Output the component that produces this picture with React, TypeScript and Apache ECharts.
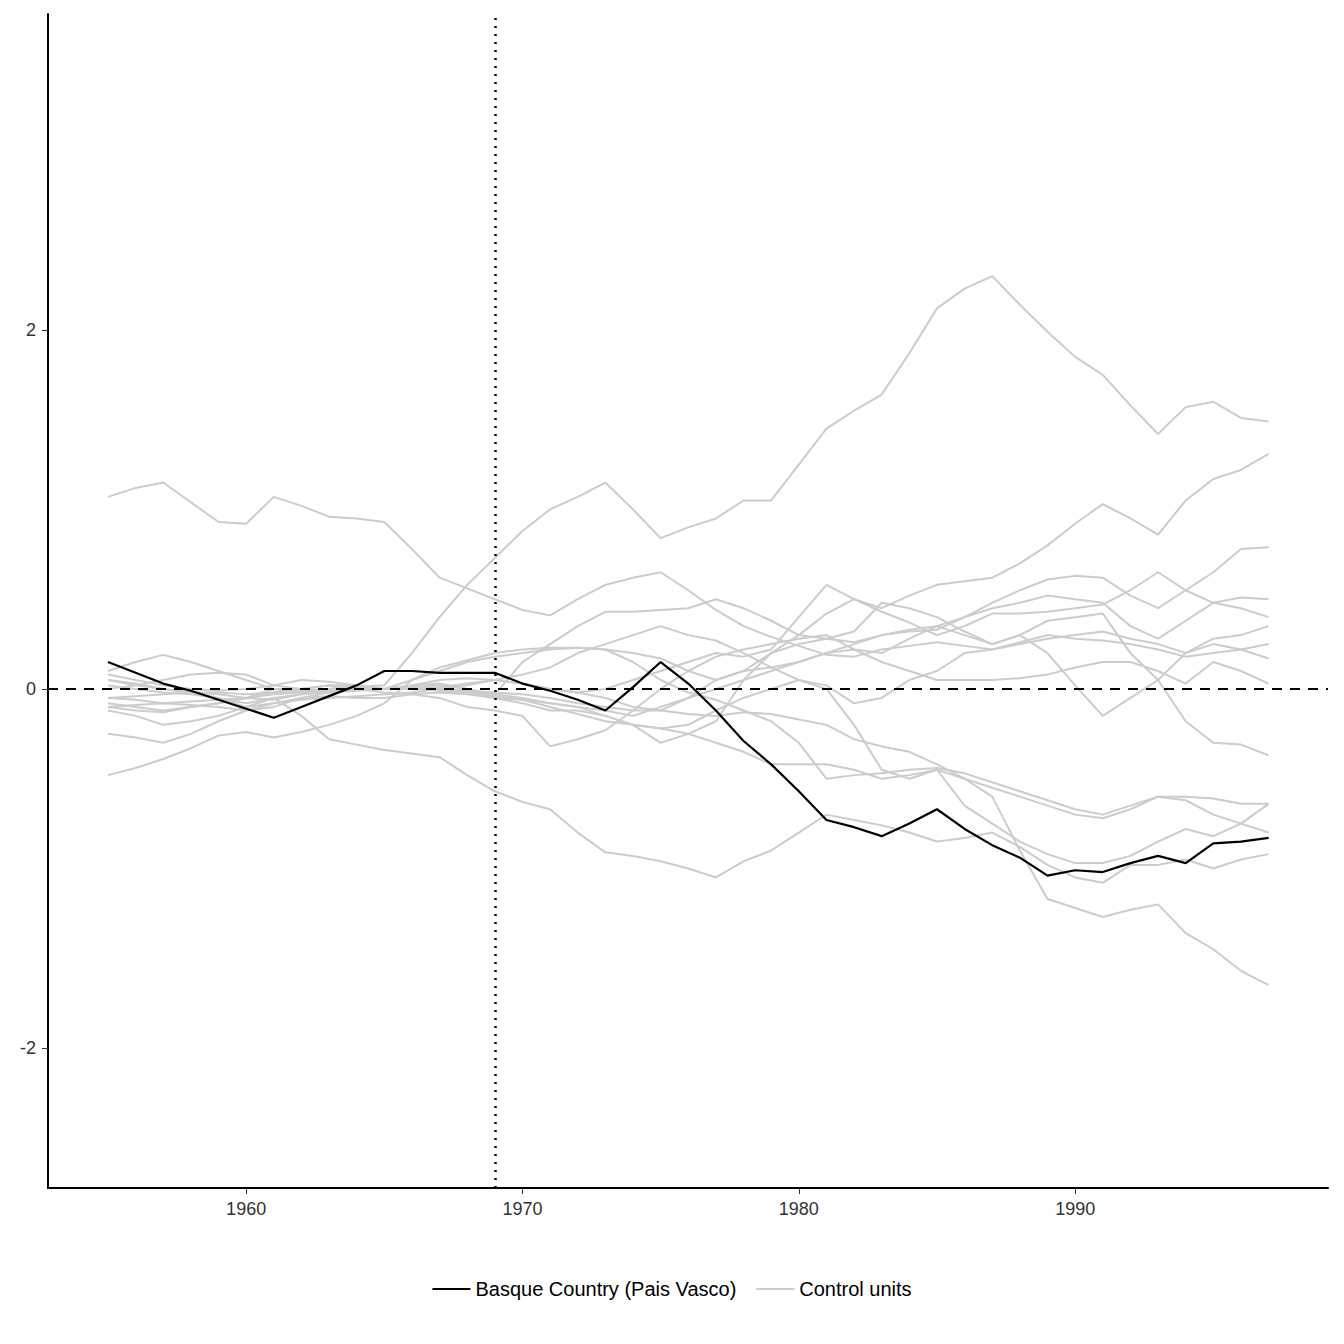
import { useRef, useEffect } from 'react'
import * as echarts from 'echarts'

const YEARS = Array.from({ length: 43 }, (_, i) => 1955 + i)

// treated unit
const BASQUE = [
  0.15, 0.09, 0.03, -0.01, -0.06, -0.11, -0.16, -0.1, -0.04, 0.02,
  0.1, 0.1, 0.09, 0.09, 0.09, 0.03, -0.01, -0.06, -0.12, 0.01,
  0.15, 0.03, -0.12, -0.29, -0.42, -0.57, -0.73, -0.77, -0.82, -0.75,
  -0.67, -0.78, -0.87, -0.94, -1.04, -1.01, -1.02, -0.97, -0.93, -0.97, -0.86, -0.85, -0.83,
]

// placebo / control units
const CONTROLS: number[][] = [
  [1.07, 1.12, 1.15, 1.04, 0.93, 0.92, 1.07, 1.02, 0.96, 0.95, 0.93, 0.78, 0.62, 0.56, 0.5, 0.44, 0.41, 0.5, 0.58, 0.62, 0.65, 0.55, 0.44, 0.35, 0.29, 0.24, 0.19, 0.18, 0.22, 0.24, 0.26, 0.24, 0.22, 0.26, 0.3, 0.28, 0.27, 0.25, 0.22, 0.18, 0.2, 0.22, 0.25],
  [-0.05, -0.04, -0.03, -0.02, -0.02, -0.03, -0.02, -0.01, 0, 0.01, 0.02, 0.2, 0.4, 0.58, 0.73, 0.88, 1.0, 1.07, 1.15, 1.0, 0.84, 0.9, 0.95, 1.05, 1.05, 1.25, 1.45, 1.55, 1.64, 1.87, 2.12, 2.23, 2.3, 2.14, 1.99, 1.85, 1.75, 1.58, 1.42, 1.57, 1.6, 1.51, 1.49],
  [0.05, 0.02, 0.0, -0.02, -0.03, -0.05, 0.0, 0.0, 0.02, 0.0, 0.0, 0.05, 0.1, 0.15, 0.18, 0.2, 0.22, 0.23, 0.22, 0.2, 0.17, 0.1, 0.05, 0.1, 0.2, 0.3, 0.42, 0.5, 0.45, 0.52, 0.58, 0.6, 0.62, 0.7, 0.8, 0.92, 1.03, 0.95, 0.86, 1.05, 1.17, 1.22, 1.31],
  [0.1, 0.15, 0.19, 0.15, 0.1, 0.05, 0, -0.02, 0, 0.02, 0.0, 0.01, 0.02, 0.0, -0.03, 0.15, 0.25, 0.35, 0.43, 0.43, 0.44, 0.45, 0.5, 0.45, 0.38, 0.3, 0.28, 0.26, 0.3, 0.32, 0.33, 0.4, 0.48, 0.55, 0.61, 0.63, 0.62, 0.52, 0.45, 0.55, 0.65, 0.78, 0.79],
  [-0.1, -0.12, -0.13, -0.1, -0.08, -0.05, -0.03, -0.02, -0.01, 0, 0, 0.02, 0.05, 0.06, 0.05, 0.03, 0.0, -0.02, 0.0, 0.05, 0.1, 0.15, 0.2, 0.18, 0.22, 0.4, 0.58, 0.5, 0.43, 0.37, 0.3, 0.35, 0.42, 0.42, 0.43, 0.45, 0.47, 0.55, 0.65, 0.55, 0.48, 0.51, 0.5],
  [0.0, 0.02, 0.05, 0.08, 0.09, 0.08, 0.02, 0.0, 0.02, 0.0, -0.02, -0.03, -0.05, -0.1, -0.12, -0.15, -0.32, -0.28, -0.23, -0.12, 0.0, 0.1, 0.18, 0.22, 0.25, 0.28, 0.3, 0.22, 0.2, 0.28, 0.35, 0.4, 0.45, 0.48, 0.52, 0.5, 0.48, 0.35, 0.28, 0.38, 0.48, 0.45, 0.4],
  [-0.08, -0.1, -0.12, -0.1, -0.08, -0.05, -0.02, 0, 0.02, 0.02, 0.0, 0.02, 0.03, 0.0, -0.05, -0.08, -0.12, -0.12, -0.15, -0.2, -0.3, -0.25, -0.18, 0.05, 0.2, 0.25, 0.28, 0.32, 0.48, 0.45, 0.4, 0.32, 0.25, 0.3, 0.2, 0.02, -0.15, -0.05, 0.05, 0.2, 0.28, 0.3, 0.35],
  [0.08, 0.05, 0.02, 0.0, -0.01, 0.0, 0.02, 0.05, 0.04, 0.02, 0.0, 0.0, 0.01, 0.03, 0.05, 0.08, 0.12, 0.2, 0.25, 0.3, 0.35, 0.3, 0.27, 0.2, 0.12, 0.05, 0.02, -0.08, -0.05, 0.05, 0.1, 0.2, 0.22, 0.25, 0.28, 0.3, 0.32, 0.28, 0.25, 0.2, 0.25, 0.22, 0.17],
  [-0.12, -0.15, -0.2, -0.18, -0.15, -0.1, -0.08, -0.05, -0.04, -0.05, -0.05, -0.03, -0.02, -0.03, -0.05, -0.06, -0.08, -0.1, -0.12, -0.15, -0.1, -0.05, 0.0, 0.05, 0.1, 0.15, 0.2, 0.22, 0.15, 0.1, 0.05, 0.05, 0.05, 0.06, 0.08, 0.12, 0.15, 0.15, 0.1, 0.03, 0.15, 0.1, 0.03],
  [-0.25, -0.27, -0.3, -0.25, -0.18, -0.12, -0.08, -0.06, -0.05, -0.04, -0.03, -0.02, 0.0, 0.02, 0.05, 0.03, 0.0, -0.02, -0.05, -0.1, -0.12, -0.05, 0.05, 0.1, 0.12, 0.15, 0.2, 0.25, 0.3, 0.33, 0.35, 0.3, 0.25, 0.3, 0.38, 0.4, 0.42, 0.2, 0.05, -0.18, -0.3, -0.31, -0.37],
  [-0.05, -0.06, -0.08, -0.07, -0.06, -0.05, -0.06, -0.03, 0.0, 0.01, 0.0, 0.0, 0.0, -0.01, -0.03, -0.05, -0.08, -0.1, -0.15, -0.2, -0.22, -0.25, -0.3, -0.35, -0.42, -0.42, -0.42, -0.45, -0.5, -0.48, -0.45, -0.5, -0.55, -0.6, -0.65, -0.7, -0.72, -0.67, -0.6, -0.62, -0.7, -0.75, -0.8],
  [-0.1, -0.09, -0.08, -0.09, -0.1, -0.12, -0.1, -0.05, -0.02, 0.0, 0.0, 0.0, -0.01, -0.02, -0.04, -0.06, -0.1, -0.14, -0.18, -0.2, -0.22, -0.2, -0.12, -0.05, 0.0, 0.05, 0.0, -0.2, -0.45, -0.5, -0.45, -0.65, -0.75, -0.85, -0.92, -0.97, -0.97, -0.93, -0.85, -0.78, -0.82, -0.75, -0.64],
  [-0.48, -0.44, -0.39, -0.33, -0.26, -0.24, -0.27, -0.24, -0.2, -0.15, -0.08, 0.05, 0.12, 0.16, 0.2, 0.22, 0.23, 0.23, 0.22, 0.15, 0.05, -0.02, -0.06, -0.12, -0.18, -0.3, -0.5, -0.48, -0.47, -0.45, -0.44, -0.47, -0.52, -0.57, -0.62, -0.67, -0.7, -0.65, -0.6, -0.6, -0.61, -0.64, -0.64],
  [0.05, 0.03, 0.0, -0.02, -0.05, -0.1, -0.05, -0.15, -0.28, -0.31, -0.34, -0.36, -0.38, -0.48, -0.57, -0.63, -0.67, -0.8, -0.91, -0.93, -0.96, -1.0, -1.05, -0.96, -0.9, -0.8, -0.7, -0.73, -0.76, -0.8, -0.85, -0.83, -0.8, -0.88, -0.98, -1.05, -1.08, -0.98, -0.98, -0.95, -1.0, -0.95, -0.92],
  [0.02, 0.0, -0.02, -0.03, -0.05, -0.08, -0.05, -0.03, -0.02, -0.01, 0.0, 0.0, 0.0, -0.01, -0.02, -0.03, -0.05, -0.08, -0.1, -0.12, -0.12, -0.14, -0.15, -0.13, -0.14, -0.17, -0.2, -0.28, -0.32, -0.35, -0.42, -0.5, -0.6, -0.9, -1.17, -1.22, -1.27, -1.23, -1.2, -1.36, -1.45, -1.57, -1.65],
]

const X_TICKS = [1960, 1970, 1980, 1990]
const Y_TICKS = [-2, 0, 2]
const TREATMENT_YEAR = 1969

const FONT = 'Liberation Sans, Arial, sans-serif'

export default function App() {
  const ref = useRef<HTMLDivElement>(null)

  useEffect(() => {
    document.body.style.margin = '0'
    if (!ref.current) return
    const chart = echarts.init(ref.current, null, { renderer: 'svg' })

    const pair = (vals: number[]) => YEARS.map((y, i) => [y, vals[i]])

    const controlSeries = CONTROLS.map((vals) => ({
      name: 'Control units',
      type: 'line',
      data: pair(vals),
      symbol: 'none',
      lineStyle: { color: '#cccccc', width: 2 },
      itemStyle: { color: '#cccccc' },
      z: 2,
    }))

    chart.setOption({
      animation: false,
      backgroundColor: '#ffffff',
      grid: { left: 48, right: 16, top: 14, bottom: 156 },
      legend: {
        bottom: 40,
        left: 'center',
        itemWidth: 38,
        itemHeight: 2,
        itemGap: 20,
        icon: 'rect',
        textStyle: { fontFamily: FONT, fontSize: 20, color: '#000' },
        data: [
          { name: 'Basque Country (Pais Vasco)', itemStyle: { color: '#000' } },
          { name: 'Control units', itemStyle: { color: '#cccccc' } },
        ],
      },
      xAxis: {
        type: 'value',
        min: 1952.83,
        max: 1999.15,
        splitLine: { show: false },
        axisLine: { onZero: false, lineStyle: { color: '#000', width: 2 } },
        axisTick: { customValues: X_TICKS, length: 6, lineStyle: { color: '#333' } },
        axisLabel: {
          customValues: X_TICKS,
          formatter: (v: number) => String(v),
          fontFamily: FONT, fontSize: 18, color: '#333', margin: 12,
        },
      },
      yAxis: {
        type: 'value',
        min: -2.78,
        max: 3.76,
        splitLine: { show: false },
        axisLine: { show: true, onZero: false, lineStyle: { color: '#000', width: 2 } },
        axisTick: { show: true, customValues: Y_TICKS, length: 6, lineStyle: { color: '#333' } },
        axisLabel: { customValues: Y_TICKS, fontFamily: FONT, fontSize: 18, color: '#333', margin: 12 },
      },
      series: [
        ...controlSeries,
        {
          name: 'Basque Country (Pais Vasco)',
          type: 'line',
          data: pair(BASQUE),
          symbol: 'none',
          lineStyle: { color: '#000', width: 2.2 },
          itemStyle: { color: '#000' },
          z: 5,
          markLine: {
            silent: true,
            symbol: 'none',
            label: { show: false },
            data: [
              { yAxis: 0, lineStyle: { color: '#000', type: [10, 8], width: 2.2 } },
              { xAxis: TREATMENT_YEAR, lineStyle: { color: '#000', type: [2, 6], width: 2.5 } },
            ],
          },
        },
      ],
    })

    return () => chart.dispose()
  }, [])

  return <div ref={ref} style={{ width: 1344, height: 1344 }} />
}
